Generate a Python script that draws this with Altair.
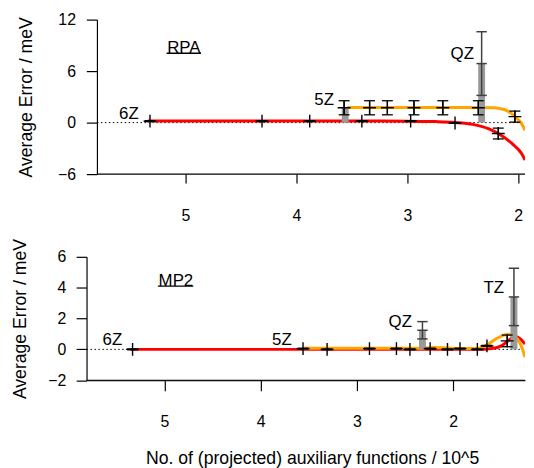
import altair as alt
import pandas as pd

# ---------------- RPA panel (top) ----------------
rpa_pts_x = [5.32, 4.31, 3.88, 3.41, 2.97, 2.57, 2.18, 3.57, 3.34, 3.18, 2.94, 2.68, 2.36, 2.03]
rpa_pts_y = [0.18, 0.18, 0.18, 0.18, 0.18, -0.05, -1.27, 1.73, 1.73, 1.73, 1.73, 1.73, 1.73, 0.70]
rpa_pts_err = [0.05, 0.05, 0.05, 0.05, 0.05, 0.03, 0.63, 0.82, 0.82, 0.82, 0.82, 0.82, 0.82, 0.64]

rpa_basis = ["6Z", "5Z", "QZ"]
rpa_basis_x = [5.32, 3.56, 2.33]
rpa_basis_y = [0.18, 1.73, 6.88]
rpa_basis_err = [0.0, 0.0, 3.71]
rpa_label_x = [5.51, 3.75, 2.505]
rpa_label_y = [1.04, 2.65, 7.96]

rpa_red_x = [5.34, 4.5, 3.5, 3.0, 2.75, 2.57, 2.41, 2.27, 2.18, 2.06, 1.97, 1.939]
rpa_red_y = [0.18, 0.18, 0.18, 0.17, 0.12, 0.02, -0.2, -0.7, -1.27, -2.4, -3.6, -4.35]
rpa_org_x = [3.54, 3.0, 2.5, 2.21, 2.17, 2.12, 2.06, 2.02, 1.97, 1.939]
rpa_org_y = [1.75, 1.77, 1.77, 1.73, 1.65, 1.5, 1.04, 0.58, -0.12, -0.89]

# ---------------- MP2 panel (bottom) ----------------
mp2_pts_x = [5.33, 3.56, 3.31, 2.87, 2.59, 2.45, 2.24, 2.06, 1.93, 1.75, 1.65, 1.44]
mp2_pts_y = [0.0, 0.05, 0.0, 0.05, 0.05, 0.0, 0.05, 0.0, 0.05, 0.0, 0.23, 0.55]
mp2_pts_err = [0.03, 0.03, 0.03, 0.03, 0.03, 0.03, 0.03, 0.03, 0.03, 0.03, 0.03, 0.38]

mp2_basis = ["6Z", "5Z", "QZ", "TZ"]
mp2_basis_x = [5.33, 3.56, 2.32, 1.37]
mp2_basis_y = [0.0, 0.05, 1.24, 3.40]
mp2_basis_err = [0.0, 0.0, 0.56, 1.86]
mp2_label_x = [5.54, 3.78, 2.55, 1.58]
mp2_label_y = [0.58, 0.62, 1.77, 3.97]

mp2_red_x = [5.35, 4.0, 3.0, 2.0, 1.75, 1.60, 1.50, 1.43, 1.36, 1.30, 1.255]
mp2_red_y = [0.0, 0.0, 0.0, 0.0, 0.0, 0.06, 0.23, 0.55, 0.83, 0.66, 0.34]
mp2_org_x = [3.56, 3.0, 2.5, 2.3, 2.2, 2.1, 1.9, 1.75, 1.67, 1.53, 1.43, 1.35, 1.28, 1.255]
mp2_org_y = [0.07, 0.07, 0.07, 0.08, 0.12, 0.1, 0.05, 0.05, 0.23, 0.77, 0.98, 0.77, 0.0, -0.5]

x_ticks = [5, 4, 3, 2]
FONT = "Liberation Sans"
CROSS = "M-1,0L1,0M0,-1L0,1"
CAP = "M-1,0L1,0"
PLOT_W = 442.7
TITLE_SIZE = 17.8


def panel(name, name_x, name_y, ul_x1, ul_x2, ul_y,
          pts_x, pts_y, pts_err, b_lbl, b_x, b_y, b_err, l_x, l_y,
          red_x, red_y, org_x, org_y,
          xdom, axis_left, ydom, yticks, width, height,
          xaxis_extra, yaxis_extra):
    xs = alt.Scale(domain=xdom, reverse=True, nice=False, zero=False)
    ys = alt.Scale(domain=ydom, nice=False, zero=False)
    common = dict(domainColor="black", tickColor="black", labelColor="black",
                  titleColor="black", domainWidth=1.2, tickWidth=1.2, grid=False,
                  labelFont=FONT, titleFont=FONT, labelFontSize=16,
                  titleFontSize=TITLE_SIZE, titleFontWeight="normal", labelFlush=False)
    xaxis = alt.Axis(values=x_ticks, **common, **xaxis_extra)
    yaxis = alt.Axis(values=yticks, **common, **yaxis_extra)

    def X(f="x"):
        return alt.X(f"{f}:Q", scale=xs, axis=xaxis)

    def Y(f="y"):
        return alt.Y(f"{f}:Q", scale=ys, axis=yaxis)

    pts = pd.DataFrame({"x": pts_x, "y": pts_y, "e": pts_err})
    pts["lo"] = pts["y"] - pts["e"]
    pts["hi"] = pts["y"] + pts["e"]
    caps = pd.concat([pd.DataFrame({"x": pts["x"], "y": pts["lo"]}),
                      pd.DataFrame({"x": pts["x"], "y": pts["hi"]})])

    bas = pd.DataFrame({"x": b_x, "v": b_y, "e": b_err, "lbl": b_lbl})
    bas["y"] = 0.0
    bas["lo"] = bas["v"] - bas["e"]
    bas["hi"] = bas["v"] + bas["e"]
    bas_e = bas[bas["e"] > 0]
    bcaps = pd.concat([pd.DataFrame({"x": bas_e["x"], "y": bas_e["lo"]}),
                       pd.DataFrame({"x": bas_e["x"], "y": bas_e["hi"]}),
                       pd.DataFrame({"x": bas_e["x"], "y": bas_e["v"]})])
    lbls = pd.DataFrame({"x": l_x, "y": l_y, "t": b_lbl})

    # frame: x-axis line starting at the y-axis, dotted zero line
    frame = pd.DataFrame({"x": [axis_left, axis_left], "x2": [xdom[0], xdom[0]],
                          "y": [ydom[0], 0.0], "k": ["axis", "zero"]})
    axis_line = alt.Chart(frame[frame.k == "axis"]).mark_rule(
        color="black", strokeWidth=1.2).encode(x=X(), x2=alt.X2("x2:Q"), y=Y())
    zero = alt.Chart(frame[frame.k == "zero"]).mark_rule(
        color="black", strokeWidth=1, strokeDash=[1.5, 2.5]).encode(x=X(), x2=alt.X2("x2:Q"), y=Y())
    red = alt.Chart(pd.DataFrame({"x": red_x, "y": red_y})).mark_line(
        color="#ff0000", strokeWidth=3, interpolate="monotone", clip=True).encode(x=X(), y=Y())
    org = alt.Chart(pd.DataFrame({"x": org_x, "y": org_y})).mark_line(
        color="#ffa500", strokeWidth=3, interpolate="monotone", clip=True).encode(x=X(), y=Y())
    gray = alt.Chart(bas).mark_rule(color="#9a9a9a", strokeWidth=7).encode(
        x=X(), y=Y(), y2=alt.Y2("v:Q"))
    derr = alt.Chart(bas_e).mark_rule(color="#404040", strokeWidth=1.5).encode(
        x=X(), y=Y("lo"), y2=alt.Y2("hi:Q"))
    dcap = alt.Chart(bcaps).mark_point(shape=CAP, size=110, filled=False,
                                       color="#404040", strokeWidth=1.5, opacity=1).encode(x=X(), y=Y())
    err = alt.Chart(pts).mark_rule(color="black", strokeWidth=1.3).encode(
        x=X(), y=Y("lo"), y2=alt.Y2("hi:Q"))
    cap = alt.Chart(caps).mark_point(shape=CAP, size=121, filled=False,
                                     color="black", strokeWidth=1.3, opacity=1).encode(x=X(), y=Y())
    cross = alt.Chart(pts).mark_point(shape=CROSS, size=169, filled=False,
                                      color="black", strokeWidth=1.4, opacity=1).encode(x=X(), y=Y())
    text = alt.Chart(lbls).mark_text(font=FONT, fontSize=17, color="black",
                                     align="center", baseline="middle").encode(
        x=X(), y=Y(), text="t:N")
    title = alt.Chart(pd.DataFrame({"x": [name_x], "y": [name_y], "t": [name]})).mark_text(
        font=FONT, fontSize=17, color="black", align="center", baseline="middle").encode(
        x=X(), y=Y(), text="t:N")
    uline = alt.Chart(pd.DataFrame({"x": [ul_x1], "x2": [ul_x2], "y": [ul_y]})).mark_rule(
        color="black", strokeWidth=1.3).encode(x=X(), x2=alt.X2("x2:Q"), y=Y())

    return alt.layer(axis_line, zero, red, org, gray, derr, dcap, err, cap, cross,
                     text, title, uline).properties(width=width, height=height)


top = panel("RPA", 5.015, 8.72, 5.17, 4.86, 8.08,
            rpa_pts_x, rpa_pts_y, rpa_pts_err, rpa_basis, rpa_basis_x, rpa_basis_y, rpa_basis_err,
            rpa_label_x, rpa_label_y, rpa_red_x, rpa_red_y, rpa_org_x, rpa_org_y,
            [1.939, 5.892], 5.798, [-6, 12], [-6, 0, 6, 12], PLOT_W, 156,
            dict(tickSize=9, labelPadding=25.1, title=None, domain=False),
            dict(tickSize=10.7, labelPadding=11, offset=-10.5, title="Average Error / meV",
                 titlePadding=22.5))

bottom = panel("MP2", 4.88, 4.46, 5.067, 4.70, 4.10,
               mp2_pts_x, mp2_pts_y, mp2_pts_err, mp2_basis, mp2_basis_x, mp2_basis_y, mp2_basis_err,
               mp2_label_x, mp2_label_y, mp2_red_x, mp2_red_y, mp2_org_x, mp2_org_y,
               [1.255, 5.808], 5.808, [-2, 6], [-2, 0, 2, 4, 6], PLOT_W, 124.6,
               dict(tickSize=10.5, labelPadding=23.6,
                    title="No. of (projected) auxiliary functions / 10^5",
                    titleX=227.7, titleY=84, titleBaseline="alphabetic"),
               dict(tickSize=10.5, labelPadding=10.5, title="Average Error / meV",
                    titlePadding=18.4))

chart = alt.vconcat(top, bottom, spacing=13.5).properties(
    padding={"left": 3.3, "top": 1.5, "right": 0, "bottom": 0},
    background="white",
).configure_view(stroke=None)

chart.save("out.html", embed_options={"renderer": "svg", "actions": False})
